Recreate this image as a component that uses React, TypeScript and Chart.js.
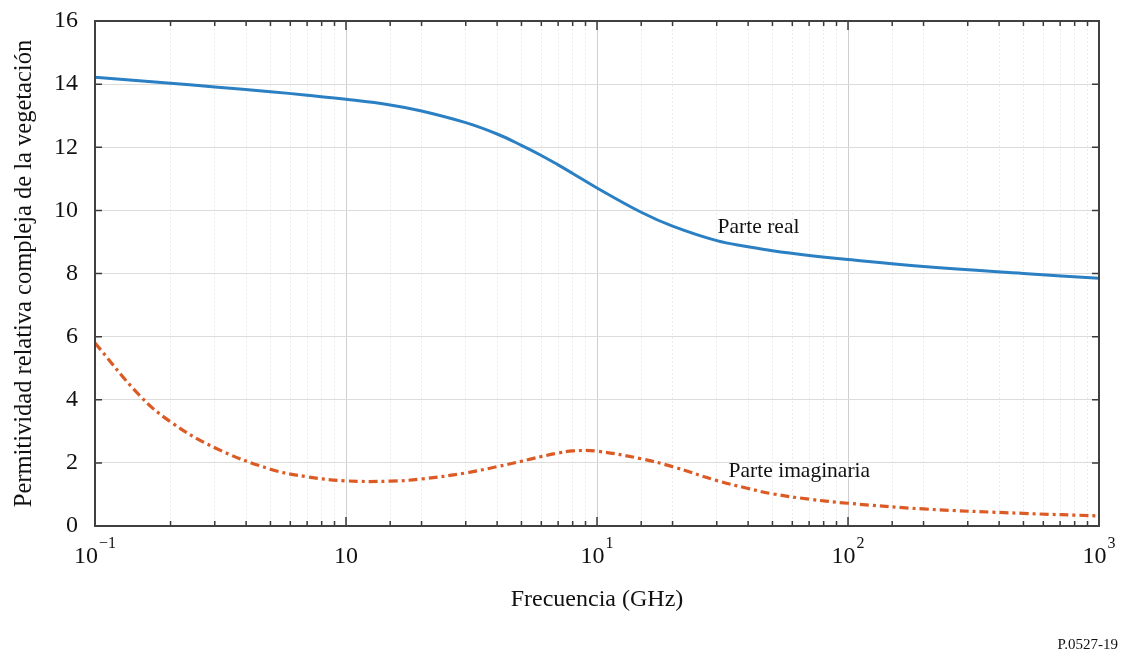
import { useEffect, useRef } from 'react';
import { Chart, registerables } from 'chart.js';

Chart.register(...registerables);

// Frequency (GHz) sample points
const freqGHz = [0.1, 0.15, 0.2, 0.3, 0.5, 0.7, 1, 1.5, 2, 3, 4, 5, 6, 7, 8, 10, 15, 20, 30, 40, 50, 70, 100, 200, 500, 1000];
// Real part of relative complex permittivity
const realPart = [14.22, 14.11, 14.03, 13.91, 13.76, 13.65, 13.52, 13.34, 13.15, 12.78, 12.42, 12.06, 11.74, 11.44, 11.17, 10.71, 9.94, 9.5, 9.04, 8.85, 8.72, 8.57, 8.44, 8.22, 8.0, 7.85];
// Imaginary part of relative complex permittivity
const imagPart = [5.8, 4.15, 3.3, 2.48, 1.8, 1.56, 1.43, 1.42, 1.49, 1.68, 1.88, 2.05, 2.2, 2.31, 2.38, 2.37, 2.13, 1.88, 1.44, 1.19, 1.02, 0.85, 0.72, 0.54, 0.4, 0.32];

const yTicks = [0, 2, 4, 6, 8, 10, 12, 14, 16];
const xDecades = [0.1, 1, 10, 100, 1000];
const xTickBase = ['10', '10', '10', '10', '10'];
const xTickSup = ['\u22121', '', '1', '2', '3'];

const seriesNames = ['Parte real', 'Parte imaginaria'];
const xTitle = 'Frecuencia (GHz)';
const yTitle = 'Permitividad relativa compleja de la vegetación';
const figureId = 'P.0527-19';

const SERIF = "'Liberation Serif', 'Times New Roman', serif";

const isDecade = (v: number) => {
  const l = Math.log10(v);
  return Math.abs(l - Math.round(l)) < 1e-6;
};

export default function App() {
  const canvasRef = useRef<HTMLCanvasElement | null>(null);

  useEffect(() => {
    document.body.style.margin = '0';
    const canvas = canvasRef.current;
    if (!canvas) return;

    const framePlugin = {
      id: 'framePlugin',
      afterDraw(chart: any) {
        const { ctx, chartArea: a, scales } = chart;
        const xs = scales.x;
        const ys = scales.y;
        ctx.save();
        // ticks (inward)
        ctx.strokeStyle = '#3a3a3a';
        ctx.lineWidth = 1.5;
        ctx.beginPath();
        for (const t of xs.ticks) {
          const px = xs.getPixelForValue(t.value);
          if (px < a.left - 0.5 || px > a.right + 0.5) continue;
          const len = isDecade(t.value) ? 9 : 5;
          ctx.moveTo(px, a.bottom);
          ctx.lineTo(px, a.bottom - len);
          ctx.moveTo(px, a.top);
          ctx.lineTo(px, a.top + len);
        }
        for (const v of yTicks) {
          const py = ys.getPixelForValue(v);
          ctx.moveTo(a.left, py);
          ctx.lineTo(a.left + 7, py);
          ctx.moveTo(a.right, py);
          ctx.lineTo(a.right - 7, py);
        }
        ctx.stroke();
        // frame
        ctx.strokeStyle = '#404040';
        ctx.lineWidth = 2;
        ctx.strokeRect(a.left, a.top, a.right - a.left, a.bottom - a.top);

        // x tick labels with superscripts
        ctx.fillStyle = '#111111';
        ctx.textBaseline = 'alphabetic';
        const baseFont = `24px ${SERIF}`;
        const supFont = `16px ${SERIF}`;
        xDecades.forEach((v, i) => {
          const px = xs.getPixelForValue(v);
          ctx.font = baseFont;
          const wb = ctx.measureText(xTickBase[i]).width;
          ctx.font = supFont;
          const ws = xTickSup[i] ? ctx.measureText(xTickSup[i]).width + 1 : 0;
          const start = px - (wb + ws) / 2;
          ctx.font = baseFont;
          ctx.textAlign = 'left';
          ctx.fillText(xTickBase[i], start, a.bottom + 37);
          if (xTickSup[i]) {
            ctx.font = supFont;
            ctx.fillText(xTickSup[i], start + wb + 1, a.bottom + 22);
          }
        });

        // series annotations
        ctx.font = `21.5px ${SERIF}`;
        ctx.textAlign = 'center';
        ctx.textBaseline = 'middle';
        ctx.fillStyle = '#111111';
        ctx.fillText(seriesNames[0], xs.getPixelForValue(44), ys.getPixelForValue(9.45));
        ctx.fillText(seriesNames[1], xs.getPixelForValue(64), ys.getPixelForValue(1.72));

        // figure id
        ctx.font = `15px ${SERIF}`;
        ctx.textAlign = 'right';
        ctx.textBaseline = 'alphabetic';
        ctx.fillText(figureId, chart.width - 8, chart.height - 7);
        ctx.restore();
      },
    };

    const chart = new Chart(canvas, {
      type: 'line',
      data: {
        datasets: [
          {
            label: seriesNames[0],
            data: freqGHz.map((f, i) => ({ x: f, y: realPart[i] })),
            borderColor: '#2b7fc3',
            borderWidth: 3,
            pointRadius: 0,
            tension: 0.4,
            fill: false,
          },
          {
            label: seriesNames[1],
            data: freqGHz.map((f, i) => ({ x: f, y: imagPart[i] })),
            borderColor: '#dc5a24',
            borderWidth: 3.2,
            borderDash: [9, 4, 3, 4],
            pointRadius: 0,
            tension: 0.4,
            fill: false,
          },
        ],
      },
      options: {
        animation: false,
        responsive: false,
        maintainAspectRatio: false,
        layout: { padding: { left: 0, right: 27, top: 21, bottom: 0 } },
        plugins: { legend: { display: false }, tooltip: { enabled: false } },
        scales: {
          x: {
            type: 'logarithmic',
            min: 0.1,
            max: 1000,
            ticks: { display: false },
            grid: {
              drawTicks: false,
              color: (c: any) => (c.tick && isDecade(c.tick.value) ? '#cfcfcf' : '#ebebeb'),
              lineWidth: 1,
            },
            border: {
              display: false,
              dash: (c: any) => (c.tick && !isDecade(c.tick.value) ? [2, 2] : []),
            },
            title: {
              display: true,
              text: xTitle,
              color: '#111111',
              font: { family: SERIF, size: 24 },
              padding: { top: 0, bottom: 42 },
            },
            afterFit: (s: any) => {
              s.height = 130;
              s.paddingLeft = 0;
              s.paddingRight = 0;
            },
          } as any,
          y: {
            min: 0,
            max: 16,
            ticks: {
              stepSize: 2,
              color: '#111111',
              font: { family: SERIF, size: 24 },
              padding: 17,
            },
            grid: { drawTicks: false, color: '#dcdcdc', lineWidth: 1 },
            border: { display: false },
            title: {
              display: true,
              text: yTitle,
              color: '#111111',
              font: { family: SERIF, size: 24.5 },
              padding: { top: 10, bottom: 0 },
            },
            afterFit: (s: any) => {
              s.width = 95;
              s.paddingTop = 0;
              s.paddingBottom = 0;
            },
          },
        },
      },
      plugins: [framePlugin],
    });

    return () => chart.destroy();
  }, []);

  return (
    <div style={{ width: 1126, height: 656, background: '#ffffff' }}>
      <canvas ref={canvasRef} width={1126} height={656} style={{ display: 'block' }} />
    </div>
  );
}
